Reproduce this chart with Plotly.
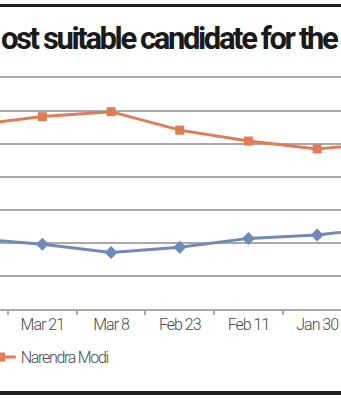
import plotly.graph_objects as go

# Survey rounds, most recent on the left; the neighbouring rounds at each end
# continue past the visible window.
round_pos = [-1, 0, 1, 2, 3, 4, 5]
tick_labels = ["Mar 21", "Mar 8", "Feb 23", "Feb 11", "Jan 30"]
tick_pos = [0, 1, 2, 3, 4]

modi = [55.8, 58.3, 59.8, 54.2, 50.9, 48.5, 50.5]
rahul = [21.4, 19.6, 17.1, 18.7, 21.4, 22.4, 24.8]

ORANGE = "#df7c55"
BLUE = "#6f8ab8"
GRID = "#a9a9a9"
SANS = "Roboto, Liberation Sans, sans-serif"


def tight(text, spacing):
    """Wrap a label in a span with condensed letter spacing."""
    return f'<span style="letter-spacing:{spacing}px">{text}</span>'


fig = go.Figure()
fig.add_trace(go.Scatter(
    x=round_pos, y=rahul, mode="lines+markers", name="Rahul Gandhi",
    showlegend=False,
    line=dict(color=BLUE, width=3),
    marker=dict(symbol="diamond", size=10, color=BLUE),
))
fig.add_trace(go.Scatter(
    x=round_pos, y=modi, mode="lines+markers", name=tight("Narendra Modi", -1.3),
    line=dict(color=ORANGE, width=3),
    marker=dict(symbol="square", size=9, color=ORANGE),
))

fig.update_layout(
    width=341, height=400,
    margin=dict(l=0, r=0, t=78, b=91, autoexpand=False),
    paper_bgcolor="white", plot_bgcolor="white",
    xaxis=dict(
        range=[-0.6165, 4.347],
        tickmode="array", tickvals=tick_pos,
        ticktext=[tight(t, -1) for t in tick_labels],
        ticks="", showgrid=False, zeroline=False,
        showline=True, mirror=True, linecolor=GRID, linewidth=1.5,
        tickfont=dict(family=SANS, size=16, color="#4a4a4a", weight=300),
        minor=dict(tickmode="array", tickvals=[p - 0.5 for p in tick_pos] + [4.5],
                   ticks="outside", ticklen=4, tickcolor=GRID, tickwidth=1.5,
                   showgrid=False),
    ),
    yaxis=dict(
        range=[0, 70], dtick=10, showticklabels=False, ticks="",
        showgrid=True, gridcolor=GRID, gridwidth=1.5, zeroline=False,
        showline=False,
    ),
    showlegend=True,
    legend=dict(
        x=-0.0566, xanchor="left", y=-0.208, yanchor="middle",
        bgcolor="rgba(0,0,0,0)",
        font=dict(family=SANS, size=16, color="#4a4a4a", weight=300),
    ),
)

fig.add_annotation(
    text=tight("<b>ost suitable candidate for the</b>", -2.4),
    xref="paper", yref="paper", x=-0.003, y=1.172,
    xanchor="left", yanchor="middle", showarrow=False,
    font=dict(family=SANS, size=31, color="#1a1a1a"),
)

# Heavy rules framing the panel top and bottom
fig.add_shape(type="line", xref="paper", yref="paper", x0=-0.02, x1=1.02,
              y0=1.3139, y1=1.3139, line=dict(color="#1e1e1e", width=3))
fig.add_shape(type="line", xref="paper", yref="paper", x0=-0.02, x1=1.02,
              y0=-0.3636, y1=-0.3636, line=dict(color="#1e1e1e", width=4))

fig.write_html("out.html")
